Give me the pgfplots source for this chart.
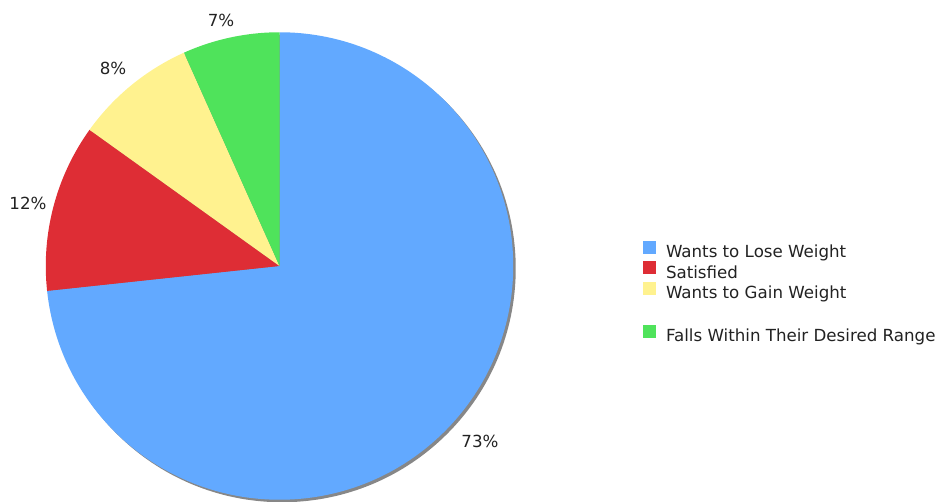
\documentclass[border=0pt]{standalone}
\usepackage{pgfplots}
\pgfplotsset{compat=1.18}
\usepackage{pgfplotstable}
\usepackage{fontspec}
\setmainfont{DejaVu Sans}
\definecolor{pblue}{HTML}{62A9FF}
\definecolor{pred}{HTML}{DE2D35}
\definecolor{pyellow}{HTML}{FFF28F}
\definecolor{pgreen}{HTML}{4FE35B}
\definecolor{pshadow}{HTML}{878787}
\definecolor{ptext}{HTML}{222222}
\pgfplotstableread{
label value
Lose 73.3
Satisfied 11.6
Gain 8.4
Falls 6.7
}\piedata
\begin{document}
\begin{tikzpicture}
\pgfplotstablegetelem{0}{value}\of\piedata \pgfmathsetmacro\va{\pgfplotsretval}
\pgfplotstablegetelem{1}{value}\of\piedata \pgfmathsetmacro\vb{\pgfplotsretval}
\pgfplotstablegetelem{2}{value}\of\piedata \pgfmathsetmacro\vc{\pgfplotsretval}
\pgfplotstablegetelem{3}{value}\of\piedata \pgfmathsetmacro\vd{\pgfplotsretval}
\pgfmathsetmacro\tot{\va+\vb+\vc+\vd}
\pgfmathsetmacro\aA{90}
\pgfmathsetmacro\aB{\aA-3.6*\va*(100/\tot)}
\pgfmathsetmacro\aC{\aB-3.6*\vb*(100/\tot)}
\pgfmathsetmacro\aD{\aC-3.6*\vc*(100/\tot)}
\pgfmathsetmacro\aE{\aD-3.6*\vd*(100/\tot)}
\def\R{175.3pt}
\useasboundingbox (0,0) rectangle (705pt,376.5pt);
\begin{axis}[
  at={(0,0)}, anchor=south west,
  scale only axis, width=705pt, height=376.5pt,
  xmin=0, xmax=940, ymin=0, ymax=502,
  hide axis, clip=false,
  legend style={at={(axis cs:643,261)}, anchor=north west, draw=none, fill=none,
    inner sep=0pt, outer sep=0pt, row sep=1.1pt,
    font=\fontsize{12.5}{15}\selectfont\color{ptext},
    nodes={inner sep=0pt}},
  legend cell align=left,
  legend image code/.code={\fill[#1,draw=none] (0pt,-1.5pt) rectangle (9.75pt,8.25pt);},
  /tikz/every odd column/.append style={column sep=7.5pt},
]
\addlegendimage{fill=pblue,draw=none}\addlegendentry{Wants to Lose Weight\strut}
\addlegendimage{fill=pred,draw=none}\addlegendentry{Satisfied\strut}
\addlegendimage{fill=pyellow,draw=none}\addlegendentry{Wants to Gain Weight\strut}
\addlegendimage{empty legend}\addlegendentry{\rule[-4.5pt]{0pt}{18.75pt}}
\addlegendimage{fill=pgreen,draw=none}\addlegendentry{Falls Within Their Desired Range\strut}

\fill[pshadow] (axis cs:282,233.5) circle[radius=\R];
\fill[pblue] (axis cs:279.5,236) -- ++(\aA:\R) arc[start angle=\aA, end angle=\aB, radius=\R] -- cycle;
\fill[pred] (axis cs:279.5,236) -- ++(\aB:\R) arc[start angle=\aB, end angle=\aC, radius=\R] -- cycle;
\fill[pyellow] (axis cs:279.5,236) -- ++(\aC:\R) arc[start angle=\aC, end angle=\aD, radius=\R] -- cycle;
\fill[pgreen] (axis cs:279.5,236) -- ++(\aD:\R) arc[start angle=\aD, end angle=\aE, radius=\R] -- cycle;

\begin{scope}[every node/.style={font=\fontsize{12.5}{15}\selectfont, text=ptext, inner sep=0pt}]
\node at (axis cs:480,61) {73\%};
\node at (axis cs:28,299) {12\%};
\node at (axis cs:113,434) {8\%};
\node at (axis cs:221,482) {7\%};
\end{scope}
\end{axis}
\end{tikzpicture}
\end{document}
